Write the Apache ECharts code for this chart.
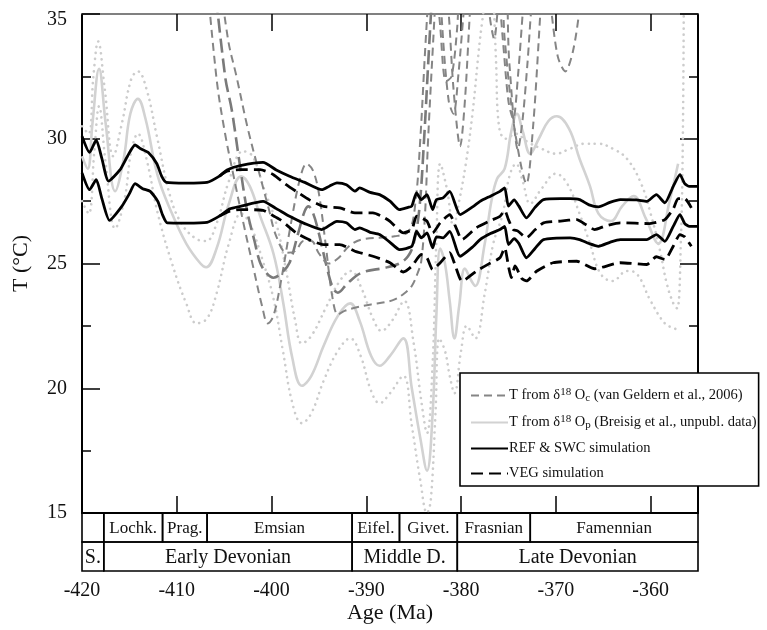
<!DOCTYPE html>
<html><head><meta charset="utf-8">
<script src="https://cdn.jsdelivr.net/npm/echarts@6/dist/echarts.min.js"></script>
<style>html,body{margin:0;padding:0;background:#fff}#c{width:767px;height:630px}</style>
</head><body><div id="c"></div>
<script>
// ---------- DATA ----------
const xTicks = [-420, -410, -400, -390, -380, -370, -360];
const yTicks = [15, 20, 25, 30, 35];

const stageNames = ['', 'Lochk.', 'Prag.', 'Emsian', 'Eifel.', 'Givet.', 'Frasnian', 'Famennian'];
const stageBounds = [-420, -417.7, -411.5, -406.8, -391.5, -386.5, -380.4, -372.7, -355];
const epochNames = ['S.', 'Early Devonian', 'Middle D.', 'Late Devonian'];
const epochBounds = [-420, -417.7, -391.5, -380.4, -355];

// REF & SWC simulation (upper / lower)
const refUpper = [[-420,30.1],[-419.2,29.45],[-418.5,29.95],[-417.9,29.2],[-417.2,28.3],[-416.0,28.75],[-415.2,29.3],[-414.4,29.75],[-413.8,29.6],[-413.0,29.45],[-412.1,29.0],[-411.6,28.5],[-411.1,28.25],[-409,28.22],[-406.8,28.25],[-405.5,28.5],[-404.7,28.75],[-403.3,28.92],[-400.9,29.05],[-399.5,28.75],[-398.1,28.5],[-396.5,28.25],[-394.7,27.96],[-393.9,28.1],[-393.1,28.23],[-392.1,28.16],[-391.2,27.9],[-390.7,28.03],[-389.6,27.85],[-388.6,27.76],[-387.5,27.5],[-386.5,27.16],[-385.6,27.25],[-385.2,27.3],[-384.7,27.83],[-384.2,27.56],[-383.6,27.76],[-383.0,27.16],[-382.6,27.56],[-381.9,27.63],[-381.2,27.89],[-380.1,26.96],[-378.7,27.29],[-378.0,27.49],[-376.9,27.7],[-375.9,27.89],[-375.4,28.03],[-375.0,27.3],[-374.4,27.55],[-373.9,27.3],[-373.1,26.83],[-372.2,27.25],[-371.3,27.56],[-369.5,27.6],[-368.5,27.6],[-367.5,27.56],[-366.5,27.35],[-365.5,27.27],[-364.3,27.45],[-363.2,27.56],[-361.5,27.55],[-360.4,27.49],[-359.4,27.76],[-358.5,27.43],[-357.6,28.1],[-356.9,28.56],[-356.4,28.2],[-355.9,28.09],[-355,28.09]];
const refLower = [[-420,28.63],[-419.2,27.96],[-418.5,28.36],[-417.9,27.6],[-417.1,26.73],[-415.8,27.29],[-415.0,27.8],[-414.4,28.2],[-413.6,28.0],[-412.8,27.89],[-412.0,27.49],[-411.5,26.95],[-411.0,26.63],[-409,26.62],[-406.8,26.65],[-405.5,26.9],[-404.4,27.19],[-403.3,27.29],[-400.9,27.49],[-399.5,27.2],[-398.1,26.89],[-396.5,26.6],[-394.7,26.36],[-393.1,26.69],[-392.1,26.63],[-391.2,26.36],[-390.7,26.43],[-389.6,26.25],[-388.6,26.16],[-387.5,25.85],[-386.5,25.56],[-385.2,25.69],[-384.7,26.29],[-384.2,26.03],[-383.6,26.23],[-383.0,25.63],[-382.6,26.07],[-381.9,26.03],[-381.2,26.29],[-380.1,25.29],[-378.7,25.69],[-378.0,25.96],[-376.9,26.2],[-375.9,26.36],[-375.4,26.49],[-375.0,25.76],[-374.4,26.0],[-373.9,25.8],[-373.1,25.23],[-372.2,25.6],[-371.3,25.96],[-368.5,26.03],[-367.5,25.96],[-366.5,25.8],[-365.5,25.69],[-364.3,25.85],[-363.2,25.96],[-360.4,25.96],[-359.4,26.16],[-358.5,25.89],[-357.6,26.5],[-356.9,26.96],[-356.4,26.6],[-355.9,26.49],[-355,26.49]];

// VEG simulation (upper / lower)
const vegUpper = [[-405.5,28.5],[-404.7,28.7],[-403.3,28.76],[-401.2,28.76],[-399.8,28.56],[-398.6,28.2],[-397.4,27.89],[-396,27.55],[-394.5,27.29],[-392.8,27.23],[-391.2,27.03],[-389.3,27.03],[-388.4,26.9],[-387.5,26.69],[-386.1,26.23],[-385.2,26.36],[-384.7,26.9],[-384.2,26.83],[-383.6,26.7],[-383.0,26.23],[-382.2,26.63],[-381.2,26.96],[-380.6,26.5],[-379.9,25.96],[-378.4,26.43],[-377,26.7],[-375.9,26.89],[-375.4,27.13],[-375.0,26.76],[-374.5,26.36],[-374.0,26.3],[-373.1,26.03],[-372.2,26.35],[-371.3,26.63],[-369.5,26.7],[-367.8,26.76],[-366.8,26.55],[-365.9,26.36],[-364.8,26.5],[-363.2,26.63],[-360.1,26.6],[-358.5,26.76],[-357.6,27.2],[-357.1,27.6],[-356.4,27.6],[-355.7,27.23]];
const vegLower = [[-405.5,26.9],[-404.4,27.1],[-403.3,27.16],[-400.9,27.13],[-400,26.95],[-399.1,26.76],[-397.4,26.23],[-396,25.95],[-394.5,25.76],[-392.8,25.76],[-391.2,25.49],[-389.3,25.29],[-387.5,25.03],[-386.1,24.66],[-385.2,24.89],[-384.2,25.36],[-383.6,25.23],[-383.0,24.76],[-382.2,25.03],[-381.2,25.43],[-380.6,24.9],[-379.9,24.29],[-378.4,24.69],[-377,25.0],[-375.9,25.23],[-375.4,25.63],[-375.0,24.89],[-374.7,24.43],[-374.3,24.9],[-373.6,24.4],[-373.1,24.3],[-372,24.7],[-370.3,25.03],[-367.8,25.09],[-365.9,24.79],[-363.2,25.03],[-360.4,24.96],[-359.4,25.27],[-358.5,25.16],[-357.6,25.7],[-356.9,26.16],[-356.4,26.07],[-355.7,25.69]];

// T from d18Op (Breisig et al.): mean and dotted bounds
const brMean = [[-420,29.3],[-419.4,28.8],[-418.9,30.6],[-418.2,32.8],[-417.5,30.6],[-416.5,27.9],[-415.6,29.2],[-414.9,31.0],[-414.1,31.6],[-413.3,30.8],[-412,28.5],[-410.5,27.0],[-409,25.8],[-407.5,25.0],[-406.9,24.85],[-405.8,25.6],[-404.5,27.4],[-403.2,28.5],[-402.3,28.1],[-401.2,26.9],[-399.8,25.4],[-398.8,23.5],[-397.8,21.2],[-396.8,20.1],[-395.8,20.5],[-394.5,21.7],[-393,22.9],[-391.7,23.4],[-390.7,22.7],[-389.5,21.3],[-388.6,20.9],[-387.5,21.3],[-386.1,22.0],[-385.2,20.0],[-384.3,18.0],[-383.6,16.7],[-383,19],[-382.6,23],[-382.2,25.6],[-381.7,25.0],[-381.2,23.5],[-380.7,22.0],[-380.2,23.3],[-379.6,24.8],[-378.9,24.3],[-378.5,24.1],[-377.5,25.8],[-376.8,27.5],[-376.2,28.4],[-375.4,28.8],[-374.7,30.3],[-374.1,31.0],[-373.5,30.3],[-372.7,29.4],[-371.8,30.0],[-370.8,30.7],[-369.9,30.9],[-368.6,30.4],[-367.5,29.2],[-366.4,28.1],[-365.5,27.0],[-364.2,26.7],[-363,27.3],[-361.8,27.7],[-360.5,26.8],[-359.2,25.8],[-358,27.5],[-357.1,29.0]];
const brUpper = [[-420,30.5],[-419.3,30.2],[-418.8,32.5],[-418.3,33.9],[-417.6,32.0],[-416.7,29.3],[-415.8,30.6],[-414.8,32.4],[-414.1,32.7],[-413.2,32.0],[-412.1,30.1],[-410.7,27.7],[-409.5,26.6],[-408,26.0],[-406.9,25.9],[-405.8,26.6],[-404.5,28.3],[-403,29.5],[-402,29.3],[-400.8,28.0],[-399.5,26.6],[-398.5,24.8],[-397.5,22.7],[-396.8,21.8],[-395.8,22.1],[-394.3,23.2],[-392.8,24.3],[-391.6,24.7],[-390.5,24.0],[-389.3,22.8],[-388.4,22.3],[-387.3,22.7],[-386,23.5],[-385,21.8],[-384.2,19.5],[-383.6,18.2],[-383,21],[-382.6,26],[-382.2,29],[-381.5,28],[-380.8,26.5],[-380.2,27.5],[-379.5,29],[-378.8,31],[-378,34],[-377.3,36]];
const brUpper2 = [[-376.6,36],[-376.3,33],[-376.0,30.5],[-375.3,30.0],[-374.2,30.2],[-373.1,29.9],[-371.5,29.6],[-370,29.4],[-368.5,29.6],[-367,29.8],[-365.5,29.8],[-364,29.6],[-362.5,29.2],[-361,28.2],[-360,27],[-359,25.5],[-358.3,24.2],[-357.6,23.4],[-357.2,23.2],[-356.8,26],[-356.6,30],[-356.5,35.5]];
const brLower = [[-420,27.5],[-419.3,27.0],[-418.7,29.5],[-418.2,31.3],[-417.5,29],[-416.5,26.4],[-415.5,27.6],[-414.8,29.5],[-414.1,30.2],[-413.2,29.2],[-412,27],[-410.5,25.0],[-409,23.4],[-407.9,22.6],[-406.8,22.8],[-405.8,23.8],[-404.5,25.8],[-403.2,27.0],[-402.3,26.6],[-401,25.2],[-399.8,23.6],[-398.8,21.5],[-397.8,19.4],[-396.8,18.6],[-395.8,19.0],[-394.5,20.3],[-393,21.5],[-391.7,22.0],[-390.6,21.3],[-389.5,19.9],[-388.6,19.4],[-387.5,19.8],[-386.1,20.5],[-385.2,18.5],[-384.3,16.3],[-383.6,15.0],[-383.2,15.5],[-382.7,19],[-382.3,22],[-381.7,21.5],[-381.2,20.5],[-380.7,19.8],[-380,21.5],[-379.4,22.5],[-378.5,22.0],[-377.5,23.8],[-376.6,25.8],[-375.6,27.0],[-374.9,28.5],[-374.2,29.0],[-373.5,28.3],[-372.7,27.4],[-371.5,28.0],[-370,28.6],[-368.8,28.2],[-367.5,27.0],[-366.4,25.8],[-365.3,24.6],[-364,24.3],[-362.5,24.7],[-361.5,24.6],[-360,23.5],[-358.5,22.6],[-357.5,22.4],[-356.8,22.3]];

// T from d18Oc (van Geldern et al., 2006)
const vg1 = [[-407.2,38],[-405.8,32.4],[-404.9,30.2],[-404,28.5],[-402.9,26.5],[-401.9,24.8],[-401.0,23.3],[-400.4,22.6],[-399.8,22.9],[-399.0,24.3],[-398.0,26.5],[-397.0,28.4],[-396.3,29.0],[-395.6,28.7],[-395.0,27.8],[-394.3,25.8],[-393.6,23.7],[-393.0,22.96],[-392.3,23.1],[-391.0,23.25],[-389.5,23.36],[-388,23.45],[-387,23.56],[-386,23.8],[-385.2,24.1],[-384.6,24.6],[-384.2,25.1],[-383.8,27],[-383.5,29.8],[-383.0,33.5],[-382.6,36],[-382.0,38]];
const vg2 = [[-406.5,38],[-404.9,32.5],[-404.2,31.16],[-403.4,29.1],[-402.6,27.16],[-401.8,25.9],[-401.2,25.03],[-400.5,24.6],[-399.8,24.43],[-399.0,24.6],[-398.1,25.03],[-397.2,26.2],[-396.5,27.1],[-396.1,27.29],[-395.6,27.0],[-395.0,26.2],[-394.2,24.9],[-393.5,24.0],[-393.0,23.83],[-392.0,24.2],[-390.5,24.63],[-388,24.83],[-386.5,25.0],[-385.6,25.29],[-385.0,25.8],[-384.4,27.2],[-383.9,30],[-383.4,33.5],[-383.0,36],[-382.5,38]];
const vg3 = [[-406,38],[-404.6,34],[-403.7,32.5],[-402.5,30.4],[-401.2,28.49],[-400.3,27.2],[-399.5,26.09],[-398.4,25.43],[-397.5,25.5],[-396.6,25.9],[-395.8,25.9],[-395.0,25.4],[-394.0,25.0],[-393.0,25.2],[-391.8,25.7],[-390.5,25.96],[-387,26.09],[-385.5,26.3],[-384.8,27.5],[-384.3,30],[-383.8,33.5],[-383.4,36],[-383.0,38]];
const vgR1 = [[-382.0,38],[-381.3,35],[-380.8,32],[-380.1,29.7],[-379.6,31.5],[-379.0,35.5],[-378.5,38],[-376.2,38],[-375.4,34],[-374.4,30.5],[-373.1,28.2],[-372.4,30.5],[-371.8,34],[-371.2,38]];
const vgR2 = [[-382.5,38],[-381.9,34],[-381.3,31.5],[-380.8,31],[-380.3,32.5],[-379.5,36],[-378.8,38],[-375.8,38],[-374.9,33],[-374.0,29.56],[-373.5,30.8],[-373.0,33],[-372.4,36],[-371.5,38],[-370.6,35.5],[-369.8,33.3],[-369.0,32.7],[-368.2,33.5],[-367.5,35.2],[-366.8,38]];
const vgR3 = [[-383.0,38],[-382.2,34.5],[-381.6,32.3],[-381.0,32.5],[-380.4,34.5],[-379.8,38],[-377.5,38],[-377.0,35],[-376.5,34],[-376.0,35.5],[-375.6,34],[-375.0,31.5],[-374.5,30.8],[-374.0,32.5],[-373.4,35.5],[-372.8,38]];

// ---------- CHART ----------
const SERIF = "'Liberation Serif','DejaVu Serif',serif";
const NAME_VG = 'vG', NAME_BR = 'Br', NAME_REF = 'REF', NAME_VEG = 'VEG';
const legendText = {
  [NAME_VG]: '{n|T from δ}{sup|18}{n| O}{sub|c}{n| (van Geldern et al., 2006)}',
  [NAME_BR]: '{n|T from δ}{sup|18}{n| O}{sub|p}{n| (Breisig et al., unpubl. data)}',
  [NAME_REF]: '{n|REF & SWC simulation}',
  [NAME_VEG]: '{n|VEG simulation}'
};

function lineSeries(name, data, color, width, type, smooth, z) {
  const dotted = Array.isArray(type) && type[0] < 1;
  return {
    name, type: 'line', data, xAxisIndex: 0, yAxisIndex: 0,
    showSymbol: false, symbol: 'none', smooth: smooth, clip: true, z: z,
    itemStyle: { color: color, opacity: 0 },
    lineStyle: { color, width, type, cap: dotted ? 'round' : 'butt', join: 'round' },
    emphasis: { disabled: true }, silent: true, animation: false
  };
}
const DOT = [0.1, 6];
const series = [
  lineSeries(NAME_VG, vg1, '#858585', 2, [8, 5], 0.35, 3),
  lineSeries(NAME_VG, vg2, '#7a7a7a', 2.6, [14, 6], 0.35, 3),
  lineSeries(NAME_VG, vg3, '#858585', 2, [8, 5], 0.35, 3),
  lineSeries(NAME_VG, vgR1, '#858585', 2, [8, 5], 0.3, 3),
  lineSeries(NAME_VG, vgR2, '#858585', 2, [8, 5], 0.3, 3),
  lineSeries(NAME_VG, vgR3, '#858585', 2, [8, 5], 0.3, 3),
  lineSeries(NAME_BR, brMean, '#d2d2d2', 2.6, 'solid', 0.4, 2),
  lineSeries(NAME_BR, brUpper, '#cccccc', 2.6, DOT, 0.4, 1),
  lineSeries(NAME_BR, brUpper2, '#cccccc', 2.6, DOT, 0.4, 1),
  lineSeries(NAME_BR, brLower, '#cccccc', 2.6, DOT, 0.4, 1),
  lineSeries(NAME_REF, refUpper, '#000', 2.8, 'solid', 0.2, 5),
  lineSeries(NAME_REF, refLower, '#000', 2.8, 'solid', 0.2, 5),
  lineSeries(NAME_VEG, vegUpper, '#000', 2.8, [12, 6], 0.2, 4),
  lineSeries(NAME_VEG, vegLower, '#000', 2.8, [12, 6], 0.2, 4)
];

// stratigraphic table (custom series on second grid)
const tableData = [];
stageNames.forEach((n, i) => tableData.push([stageBounds[i], stageBounds[i + 1], 1, n, 17]));
epochNames.forEach((n, i) => tableData.push([epochBounds[i], epochBounds[i + 1], 0, n, 20]));
series.push({
  type: 'custom', xAxisIndex: 2, yAxisIndex: 2, silent: true, animation: false, clip: false,
  data: tableData,
  renderItem: function (params, api) {
    const s = api.value(0), e = api.value(1), r = api.value(2);
    const p0 = api.coord([s, r + 1]);
    const p1 = api.coord([e, r]);
    const d = tableData[params.dataIndex];
    return {
      type: 'group', children: [
        { type: 'rect', shape: { x: p0[0], y: p0[1], width: p1[0] - p0[0], height: p1[1] - p0[1] },
          style: { fill: 'none', stroke: '#000', lineWidth: 1.6 } },
        { type: 'text', x: (p0[0] + p1[0]) / 2, y: (p0[1] + p1[1]) / 2 + 1,
          style: { text: d[3], fontFamily: SERIF, fontSize: d[4], fill: '#111', align: 'center', verticalAlign: 'middle' } }
      ]
    };
  }
});

const chart = echarts.init(document.getElementById('c'), null, { renderer: 'canvas' });
chart.setOption({
  backgroundColor: '#fff',
  animation: false,
  grid: [
    { left: 82, right: 69, top: 14, bottom: 117, containLabel: false },
    { left: 82, right: 69, top: 513, bottom: 59, containLabel: false }
  ],
  xAxis: [
    { type: 'value', gridIndex: 0, min: -420, max: -355, interval: 10, position: 'bottom',
      axisLine: { show: true, onZero: false, lineStyle: { color: '#000', width: 2 } },
      axisTick: { show: true, inside: true, length: 17, lineStyle: { color: '#000', width: 1.5 } },
      axisLabel: { show: false }, splitLine: { show: false } },
    { type: 'value', gridIndex: 0, min: -420, max: -355, interval: 10, position: 'top',
      axisLine: { show: true, onZero: false, lineStyle: { color: '#808080', width: 2 } },
      axisTick: { show: true, inside: true, length: 17, lineStyle: { color: '#000', width: 1.5 } },
      axisLabel: { show: false }, splitLine: { show: false } },
    { type: 'value', gridIndex: 1, min: -420, max: -355, interval: 10, position: 'bottom',
      axisLine: { show: false }, axisTick: { show: false }, splitLine: { show: false },
      axisLabel: { show: true, margin: 10, fontFamily: SERIF, fontSize: 20, color: '#111',
        customValues: xTicks, hideOverlap: false },
      name: 'Age (Ma)', nameLocation: 'middle', nameGap: 30,
      nameTextStyle: { fontFamily: SERIF, fontSize: 22, color: '#111' } }
  ],
  yAxis: [
    { type: 'value', gridIndex: 0, min: 15, max: 35, interval: 5, position: 'left',
      axisLine: { show: true, onZero: false, lineStyle: { color: '#000', width: 2 } },
      axisTick: { show: true, inside: true, length: 18, lineStyle: { color: '#000', width: 1.5 } },
      minorTick: { show: true, splitNumber: 2, length: 9, lineStyle: { color: '#000', width: 1.5 } },
      axisLabel: { show: true, margin: 15, fontFamily: SERIF, fontSize: 20, color: '#111', customValues: yTicks,
        formatter: v => (v === 35 ? '{top|35}' : String(v)),
        rich: { top: { fontFamily: SERIF, fontSize: 20, color: '#111', padding: [12, 0, 0, 0] } } },
      splitLine: { show: false },
      name: 'T (°C)', nameLocation: 'middle', nameGap: 50,
      nameTextStyle: { fontFamily: SERIF, fontSize: 22, color: '#111' } },
    { type: 'value', gridIndex: 0, min: 15, max: 35, interval: 5, position: 'right',
      axisLine: { show: true, onZero: false, lineStyle: { color: '#000', width: 2 } },
      axisTick: { show: true, inside: true, length: 18, lineStyle: { color: '#000', width: 1.5 } },
      minorTick: { show: true, splitNumber: 2, length: 9, lineStyle: { color: '#000', width: 1.5 } },
      axisLabel: { show: false }, splitLine: { show: false } },
    { type: 'value', gridIndex: 1, min: 0, max: 2, show: false }
  ],
  legend: {
    show: true, orient: 'vertical', left: 460, top: 373,
    data: [NAME_VG, NAME_BR, NAME_REF, NAME_VEG],
    itemWidth: 37, itemHeight: 14, itemGap: 10,
    padding: [14, 2, 5, 10],
    backgroundColor: '#fff', borderColor: '#000', borderWidth: 1.6, borderRadius: 0,
    selectedMode: false,
    itemStyle: { opacity: 0 },
    formatter: name => legendText[name],
    textStyle: {
      color: '#111', fontFamily: SERIF, fontSize: 14.5, padding: [0, 0, 0, -4],
      rich: {
        n: { fontFamily: SERIF, fontSize: 14.5, color: '#111' },
        sup: { fontFamily: SERIF, fontSize: 11, color: '#111', verticalAlign: 'top', padding: [0, 0, 6, 0] },
        sub: { fontFamily: SERIF, fontSize: 11, color: '#111', verticalAlign: 'bottom', padding: [6, 0, 0, 0] }
      }
    }
  },
  series: series
});
</script></body></html>
